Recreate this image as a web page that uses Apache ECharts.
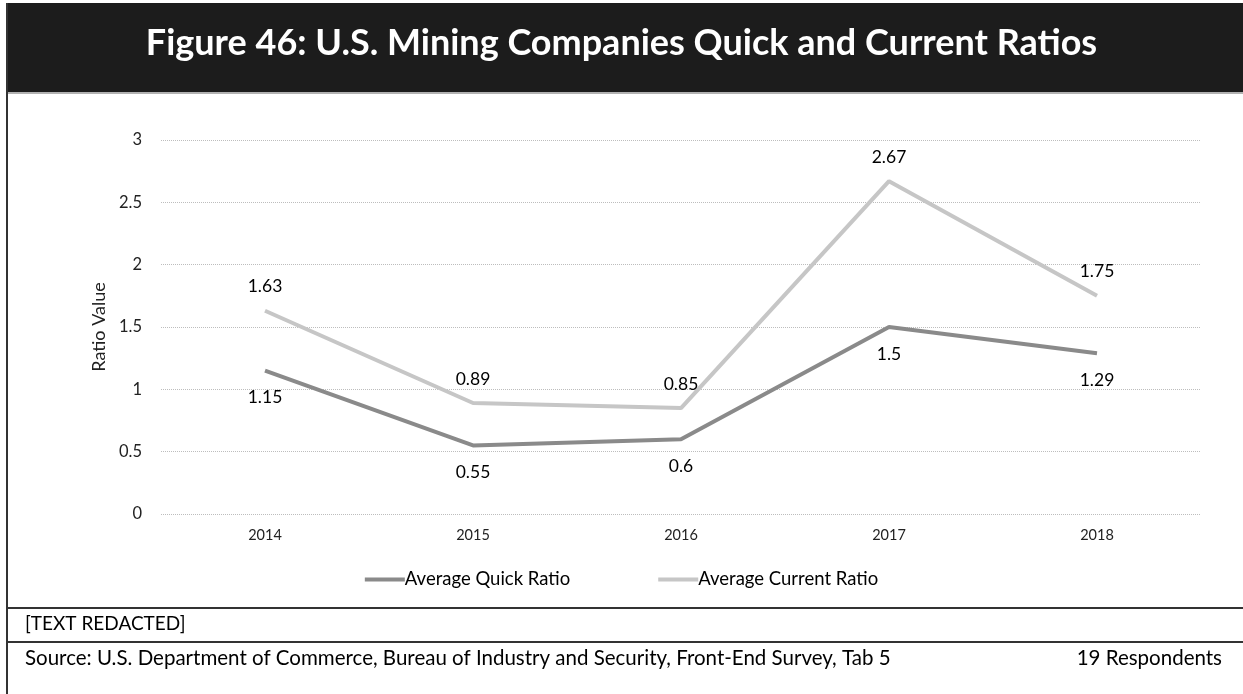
<!DOCTYPE html>
<html><head><meta charset="utf-8">
<script src="https://cdn.jsdelivr.net/npm/echarts@6/dist/echarts.min.js"></script>
<style>html,body{margin:0;padding:0;background:#fff}#c{width:1243px;height:694px}</style>
</head><body><div id="c"></div>
<script>
const titleText = "Figure 46: U.S. Mining Companies Quick and Current Ratios";
const years = ["2014", "2015", "2016", "2017", "2018"];
const quickRatio = [1.15, 0.55, 0.6, 1.5, 1.29];
const currentRatio = [1.63, 0.89, 0.85, 2.67, 1.75];
const yTicks = [0, 0.5, 1, 1.5, 2, 2.5, 3];
const seriesNames = ["Average Quick Ratio", "Average Current Ratio"];
const noteText = "[TEXT REDACTED]";
const sourceText = "Source: U.S. Department of Commerce, Bureau of Industry and Security, Front-End Survey, Tab 5";
const respondentsText = "19 Respondents";

const font = "Lato, 'Open Sans', sans-serif";
const chart = echarts.init(document.getElementById('c'));
chart.setOption({
  backgroundColor: '#fff',
  animation: false,
  textStyle: { fontFamily: font },
  title: {
    text: titleText, left: 'center', top: 20,
    textStyle: { color: '#fff', fontSize: 36, fontWeight: 'bold', fontFamily: font }
  },
  graphic: [
    { type: 'rect', z: -1, shape: { x: 7, y: 3, width: 1236, height: 89 }, style: { fill: '#1c1c1c' } },
    { type: 'line', shape: { x1: 7, y1: 93, x2: 1243, y2: 93 }, style: { stroke: '#999', lineWidth: 1.5 } },
    { type: 'line', shape: { x1: 7, y1: 3, x2: 7, y2: 694 }, style: { stroke: '#333', lineWidth: 2 } },
    { type: 'line', shape: { x1: 7, y1: 608, x2: 1243, y2: 608 }, style: { stroke: '#333', lineWidth: 2 } },
    { type: 'line', shape: { x1: 7, y1: 642, x2: 1243, y2: 642 }, style: { stroke: '#333', lineWidth: 2 } },
    { type: 'text', left: 25, top: 614, style: { text: noteText, fill: '#000', font: '19px ' + font } },
    { type: 'text', left: 25, top: 648, style: { text: sourceText, fill: '#000', font: '20.5px ' + font } },
    { type: 'text', right: 21, top: 648, style: { text: respondentsText, fill: '#000', font: '20.5px ' + font } }
  ],
  grid: { left: 161, right: 42, top: 140, bottom: 180 },
  legend: {
    data: seriesNames, top: 565, left: 'center', itemWidth: 40, itemHeight: 4, itemGap: 88,
    icon: 'rect',
    textStyle: { fontSize: 18.5, color: '#000', fontFamily: font, padding: [0, 0, 0, -5] }
  },
  xAxis: {
    type: 'category', data: years, boundaryGap: true,
    axisLine: { show: false }, axisTick: { show: false },
    axisLabel: { color: '#222', fontSize: 14.5, margin: 14 }
  },
  yAxis: {
    type: 'value', min: 0, max: 3, interval: 0.5,
    name: 'Ratio Value', nameLocation: 'middle', nameGap: 52, nameRotate: 90,
    nameTextStyle: { fontSize: 18, color: '#222' },
    axisLine: { show: false }, axisTick: { show: false },
    axisLabel: { color: '#222', fontSize: 16.5, margin: 19 },
    splitLine: { lineStyle: { color: '#bdbdbd', type: 'dotted', width: 1 } }
  },
  series: [
    {
      name: seriesNames[0], type: 'line', data: quickRatio,
      symbol: 'circle', symbolSize: 0, showSymbol: true,
      lineStyle: { color: '#8a8a8a', width: 4 }, itemStyle: { color: '#8a8a8a' },
      label: { show: true, position: 'bottom', distance: 18, color: '#000', fontSize: 17.5 }
    },
    {
      name: seriesNames[1], type: 'line', data: currentRatio,
      symbol: 'circle', symbolSize: 0, showSymbol: true,
      lineStyle: { color: '#c6c6c6', width: 4 }, itemStyle: { color: '#c6c6c6' },
      label: { show: true, position: 'top', distance: 15, color: '#000', fontSize: 17.5 }
    }
  ]
});
</script></body></html>
